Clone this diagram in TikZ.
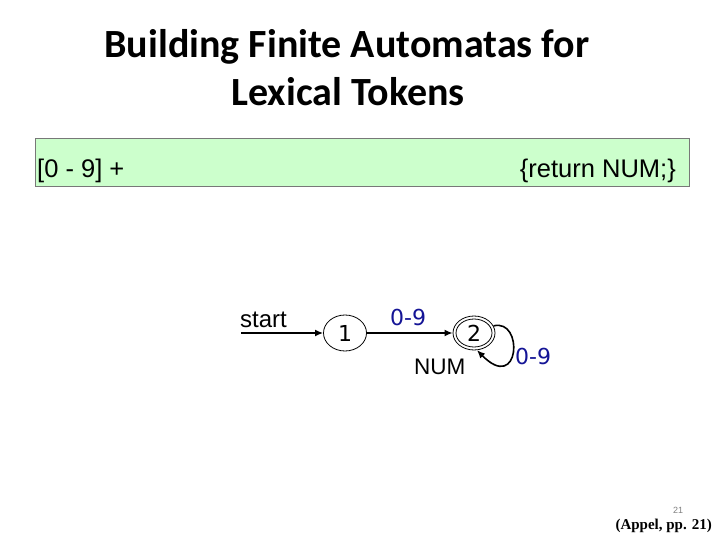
\documentclass[tikz,border=0pt]{standalone}
\usepackage{fontspec}
\setmainfont{Liberation Sans}
\newfontfamily\titlefont{Carlito}
\newfontfamily\stfont{DejaVu Sans}
\newfontfamily\reffont{Liberation Serif}
\usetikzlibrary{arrows.meta,shapes.geometric}
\definecolor{boxgreen}{RGB}{204,255,204}
\definecolor{boxline}{RGB}{120,120,120}
\definecolor{lblblue}{RGB}{20,20,150}
\begin{document}
\begin{tikzpicture}[x=1pt,y=-1pt,
  titletxt/.style={font=\titlefont\bfseries\fontsize{40}{44}\selectfont, anchor=base, inner sep=0pt},
  boxtxt/.style={font=\fontsize{25.5}{28}\selectfont, inner sep=0pt},
  statebox/.style={draw, line width=0.8pt, shape=ellipse, minimum width=43pt, minimum height=36pt, inner sep=0pt, font=\stfont\fontsize{22}{26}\selectfont},
  lbl/.style={font=\stfont\fontsize{22}{26}\selectfont, text=lblblue, inner sep=0pt, anchor=base west},
  arial/.style={font=\fontsize{22.5}{26}\selectfont, inner sep=0pt, anchor=base west},
  edge/.style={line width=1.6pt, -{Latex[length=8pt,width=7pt]}}
]
\useasboundingbox (0,0) rectangle (720,540);
\fill[white] (0,0) rectangle (720,540);
% title
\node[titletxt] (t1) at (347,58) {Building Finite Automatas for};
\node[titletxt] (t2) at (348,106) {Lexical Tokens};
% green box
\node[draw=boxline, fill=boxgreen, line width=0.8pt, minimum width=654pt, minimum height=48pt, inner sep=0pt] (box) at (362,162) {};
\node[boxtxt, anchor=base west] (re) at (37,178) {[0 - 9] +};
\node[boxtxt, anchor=base east] (act) at (676,178) {\{return NUM;\}};
% automaton
\node[arial, font=\fontsize{24}{28}\selectfont] (st) at (240,327) {start};
\coordinate (s0) at (241,333);
\node[statebox] (q1) at (345,333) {1};
\node[statebox, minimum width=42pt, minimum height=34pt] (q2) at (474,333) {};
\node[statebox, minimum width=36pt, minimum height=28pt] (q2i) at (474,333) {2};
\draw[edge] (s0) -- (q1.west);
\draw[edge] (q1.east) -- (q2.west);
\node[lbl] (l12) at (390,325) {0-9};
\node[arial] (num) at (414,374) {NUM};
\draw[edge] (q2.20) .. controls (524,318) and (520,394) .. (q2.-80);
\node[lbl] (l22) at (515,364) {0-9};
% footer
\node[font=\fontsize{9}{11}\selectfont, text=gray, inner sep=0pt] (pg) at (678,510) {21};
\node[font=\reffont\bfseries\fontsize{15}{18}\selectfont, inner sep=0pt, anchor=base east] (ref) at (712,529) {(Appel, pp. 21)};
\end{tikzpicture}
\end{document}
